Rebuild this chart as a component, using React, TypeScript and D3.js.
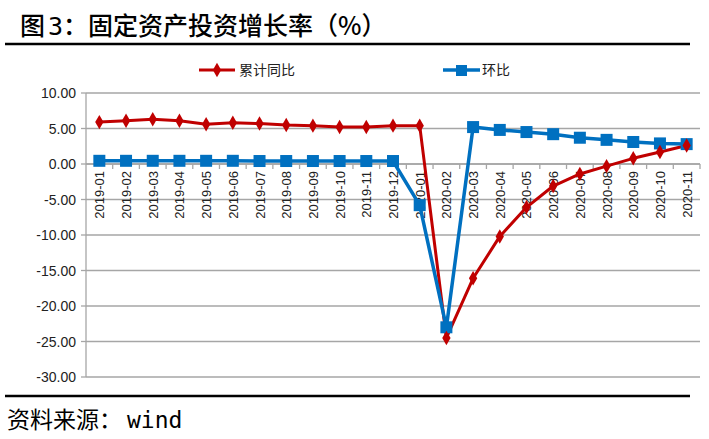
import React from "react";
import * as d3 from "d3";

const categories = [
  "2019-01","2019-02","2019-03","2019-04","2019-05","2019-06","2019-07","2019-08","2019-09","2019-10","2019-11","2019-12",
  "2020-01","2020-02","2020-03","2020-04","2020-05","2020-06","2020-07","2020-08","2020-09","2020-10","2020-11",
];
const cumulativeYoY = [5.9,6.1,6.3,6.1,5.6,5.8,5.7,5.5,5.4,5.2,5.2,5.4,5.4,-24.5,-16.1,-10.2,-6.1,-3.1,-1.4,-0.3,0.8,1.7,2.6];
const momChange = [0.45,0.45,0.45,0.45,0.45,0.45,0.42,0.42,0.42,0.42,0.42,0.42,-5.8,-23.0,5.2,4.8,4.5,4.2,3.7,3.4,3.1,2.9,2.8];
const yTicks = [10,5,0,-5,-10,-15,-20,-25,-30];
const seriesNames = ["累计同比", "环比"];

const W = 709, H = 439;
const L = 86, R = 700, T = 93, B = 377;
const RED = "#C00000";
const BLUE = "#0070C0";
const CJK = "'Noto Sans CJK SC', 'Noto Sans', sans-serif";
const MONO = "'DejaVu Sans Mono', 'Liberation Mono', monospace";

export default function App() {
  const x = d3.scaleBand<string>().domain(categories).range([L, R]);
  const y = d3.scaleLinear().domain([-30, 10]).range([B, T]);
  const cx = (c: string) => (x(c) as number) + x.bandwidth() / 2;
  const line = d3.line<number>().x((_, i) => cx(categories[i])).y((d) => y(d));
  const diamond = d3.symbol().type(d3.symbolDiamond).size(60)();
  const y0 = y(0);

  return (
    <div style={{ position: "fixed", left: 0, top: 0 }}>
      <svg width={W} height={H} style={{ display: "block", background: "#fff" }}>
        <text x={20} y={35} fontFamily={CJK} fontSize={25} fontWeight={500} fill="#000">
          图<tspan fontFamily={MONO} dx={3}>3</tspan>：固定资产投资增长率（%）
        </text>
        <line x1={5} x2={690} y1={44} y2={44} stroke="#000" strokeWidth={2.5} />

        {/* legend */}
        <line x1={199} x2={235} y1={70} y2={70} stroke={RED} strokeWidth={3} />
        <path d={diamond as string} transform="translate(217,70)" fill={RED} />
        <text x={239} y={75} fontFamily={CJK} fontSize={14} fill="#222">{seriesNames[0]}</text>
        <line x1={443} x2={480} y1={70} y2={70} stroke={BLUE} strokeWidth={3.5} />
        <rect x={456} y={65} width={11} height={11} fill={BLUE} />
        <text x={482} y={75} fontFamily={CJK} fontSize={14} fill="#222">{seriesNames[1]}</text>

        {/* gridlines */}
        {yTicks.map((t) => (
          <line key={t} x1={L} x2={R} y1={y(t)} y2={y(t)} stroke="#a6a6a6" strokeWidth={1.3} />
        ))}
        {/* y axis */}
        <line x1={L} x2={L} y1={T} y2={B} stroke="#a6a6a6" strokeWidth={1.3} />
        {yTicks.map((t) => (
          <g key={"yt" + t}>
            <line x1={L - 5} x2={L} y1={y(t)} y2={y(t)} stroke="#a6a6a6" strokeWidth={1.3} />
            <text x={L - 10} y={y(t) + 5} textAnchor="end" fontFamily="'Liberation Sans', Arial, sans-serif" fontSize={14} fill="#222">
              {t.toFixed(2)}
            </text>
          </g>
        ))}
        {/* x axis at 0 */}
        <line x1={L} x2={R} y1={y0} y2={y0} stroke="#a6a6a6" strokeWidth={1.3} />
        {categories.map((c) => (
          <line key={"xt" + c} x1={(x(c) as number) + x.bandwidth()} x2={(x(c) as number) + x.bandwidth()} y1={y0} y2={y0 + 5} stroke="#a6a6a6" strokeWidth={1.3} />
        ))}
        {categories.map((c) => (
          <text key={"xl" + c} transform={`translate(${cx(c) + 5},${y0 + 7}) rotate(-90)`} textAnchor="end"
            fontFamily="'Liberation Sans', Arial, sans-serif" fontSize={13} fill="#222">{c}</text>
        ))}

        {/* series */}
        <path d={line(cumulativeYoY) as string} fill="none" stroke={RED} strokeWidth={3} strokeLinejoin="round" />
        <path d={line(momChange) as string} fill="none" stroke={BLUE} strokeWidth={3.5} strokeLinejoin="round" />
        {momChange.map((v, i) => (
          <rect key={"b" + i} x={cx(categories[i]) - 6} y={y(v) - 6} width={12} height={12} fill={BLUE} />
        ))}
        {cumulativeYoY.map((v, i) => (
          <path key={"r" + i} d={diamond as string} transform={`translate(${cx(categories[i])},${y(v)})`} fill={RED} />
        ))}

        <line x1={5} x2={690} y1={396} y2={396} stroke="#000" strokeWidth={2.5} />
        <text x={7} y={428} fontFamily={CJK} fontSize={23} fill="#000">
          资料来源：<tspan fontFamily={MONO} dx={5}>wind</tspan>
        </text>
      </svg>
    </div>
  );
}
